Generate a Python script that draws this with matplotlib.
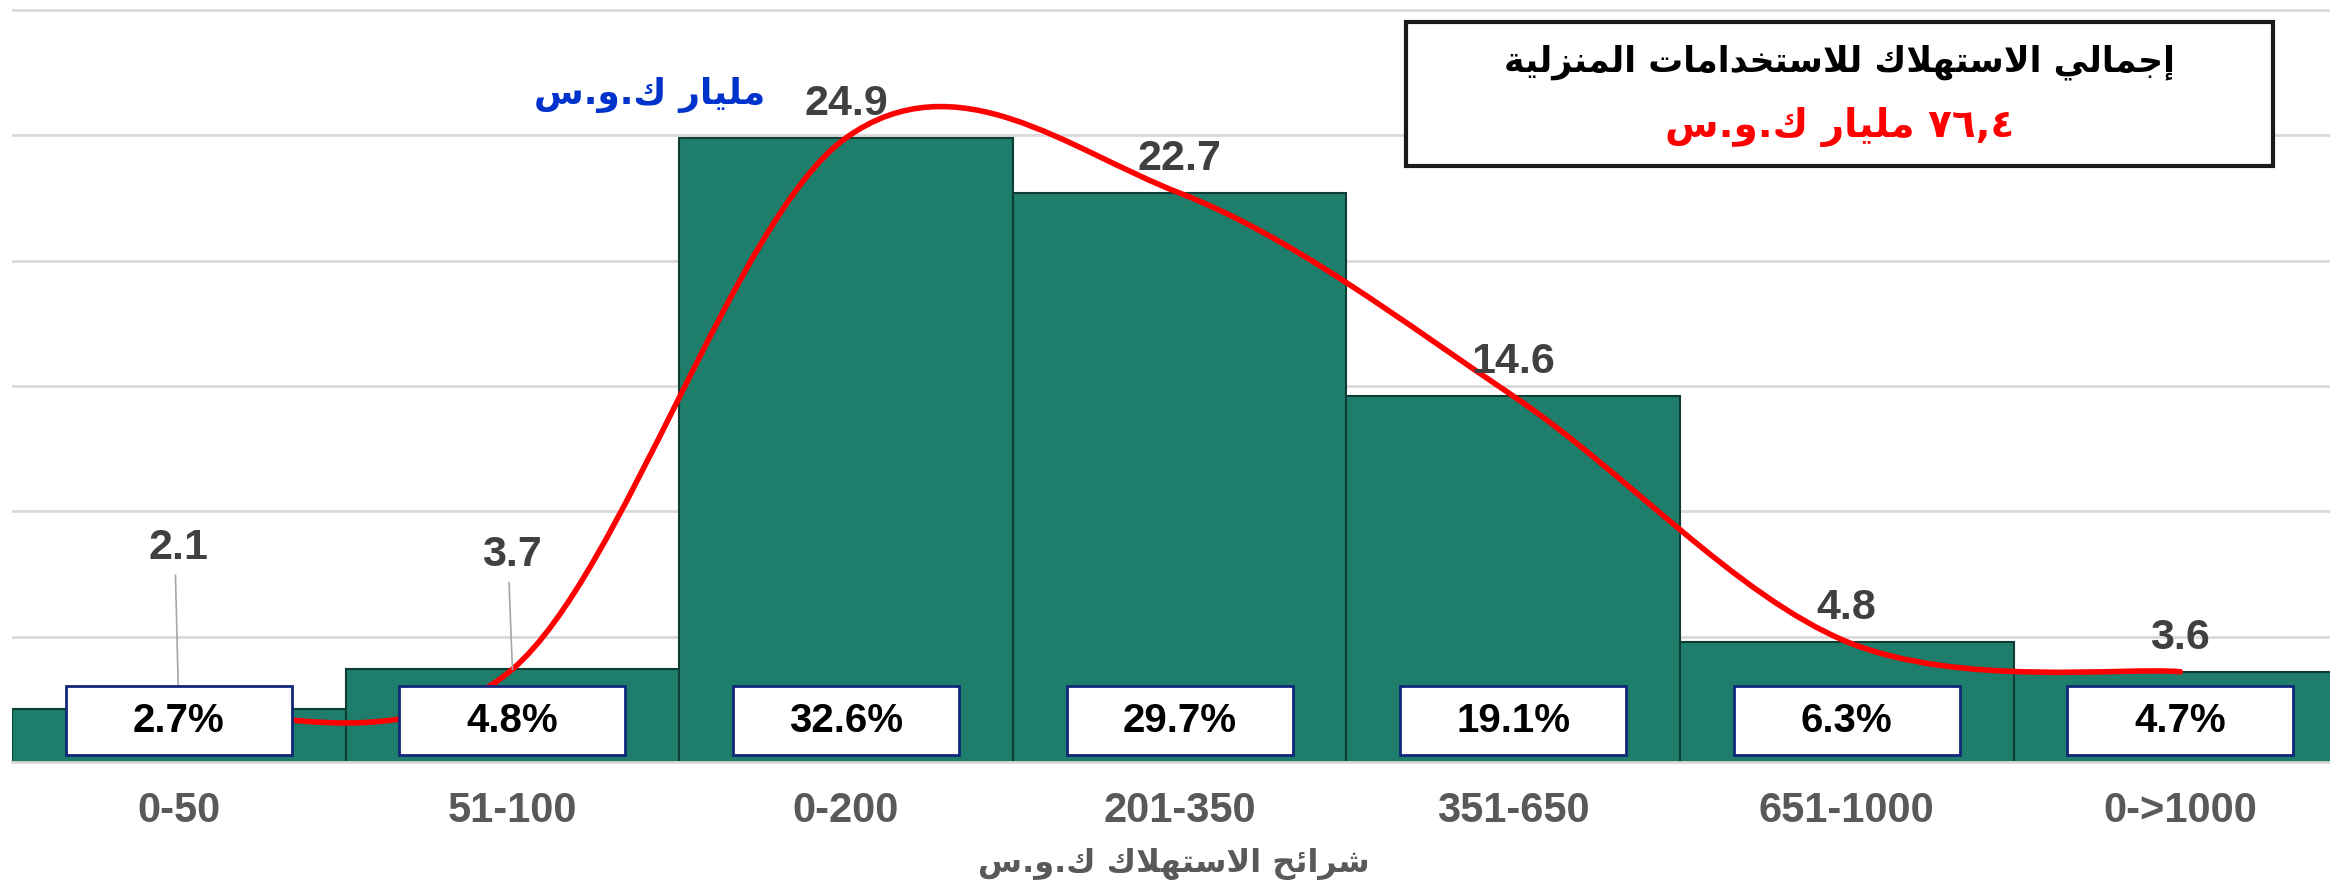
import re
import matplotlib
matplotlib.use("Agg")
import matplotlib.pyplot as plt
from matplotlib.path import Path
from matplotlib.patches import PathPatch, Rectangle

# Datos del gráfico
categories = ["0-50", "51-100", "0-200", "201-350", "351-650", "651-1000", "0->1000"]
consumption = [2.1, 3.7, 24.9, 22.7, 14.6, 4.8, 3.6]      # مليار ك.و.س
shares = [2.7, 4.8, 32.6, 29.7, 19.1, 6.3, 4.7]           # %

title_line1 = "إجمالي الاستهلاك للاستخدامات المنزلية"
title_line2 = "٧٦,٤ مليار ك.و.س"
unit_label = "مليار ك.و.س"
x_title = "شرائح الاستهلاك ك.و.س"

# Formas de presentación árabes (inicio del bloque, número de formas)
LETTERS = {'ء': (0xFE80, 1), 'آ': (0xFE81, 2), 'أ': (0xFE83, 2), 'ؤ': (0xFE85, 2),
           'إ': (0xFE87, 2), 'ئ': (0xFE89, 4), 'ا': (0xFE8D, 2), 'ب': (0xFE8F, 4),
           'ة': (0xFE93, 2), 'ت': (0xFE95, 4), 'ث': (0xFE99, 4), 'ج': (0xFE9D, 4),
           'ح': (0xFEA1, 4), 'خ': (0xFEA5, 4), 'د': (0xFEA9, 2), 'ذ': (0xFEAB, 2),
           'ر': (0xFEAD, 2), 'ز': (0xFEAF, 2), 'س': (0xFEB1, 4), 'ش': (0xFEB5, 4),
           'ص': (0xFEB9, 4), 'ض': (0xFEBD, 4), 'ط': (0xFEC1, 4), 'ظ': (0xFEC5, 4),
           'ع': (0xFEC9, 4), 'غ': (0xFECD, 4), 'ف': (0xFED1, 4), 'ق': (0xFED5, 4),
           'ك': (0xFED9, 4), 'ل': (0xFEDD, 4), 'م': (0xFEE1, 4), 'ن': (0xFEE5, 4),
           'ه': (0xFEE9, 4), 'و': (0xFEED, 2), 'ى': (0xFEEF, 2), 'ي': (0xFEF1, 4)}
LAM_ALEF = {'آ': 0xFEF5, 'أ': 0xFEF7, 'إ': 0xFEF9, 'ا': 0xFEFB}


def arabic(s):
    """Da forma a las letras y las pone en orden visual (derecha a izquierda)."""
    out = []
    prev_joins = False
    i = 0
    while i < len(s):
        c = s[i]
        if c not in LETTERS:
            out.append(c)
            prev_joins = False
            i += 1
            continue
        if c == 'ل' and i + 1 < len(s) and s[i + 1] in LAM_ALEF:
            out.append(chr(LAM_ALEF[s[i + 1]] + (1 if prev_joins else 0)))
            prev_joins = False
            i += 2
            continue
        start, n = LETTERS[c]
        nxt = s[i + 1] if i + 1 < len(s) else ''
        left = n == 4 and nxt in LETTERS
        if n == 1:
            form = 0
        elif n == 2:
            form = 1 if prev_joins else 0
        else:
            form = 3 if (prev_joins and left) else 2 if left else 1 if prev_joins else 0
        out.append(chr(start + form))
        prev_joins = n == 4
        i += 1
    vis = ''.join(reversed(out))
    return re.sub(r'[0-9\u0660-\u0669][0-9\u0660-\u0669,.]*', lambda m: m.group(0)[::-1], vis)


AR_FONT = ['DejaVu Sans']
NUM_FONT = ['Liberation Sans', 'DejaVu Sans']
W, H = 2330, 892

fig = plt.figure(figsize=(W / 100, H / 100), dpi=100)
ax = fig.add_axes([12 / W, 130 / H, 7 * 333.6 / W, 762 / H])

x = list(range(len(categories)))
ax.bar(x, consumption, width=1.0, color='#1e7d6b', edgecolor='#0e3d35', linewidth=1.5, zorder=2)

ax.set_xlim(-0.5, 6.5)
ax.set_ylim(0, 30.4)
ax.set_yticks([5, 10, 15, 20, 25, 30])
ax.yaxis.grid(True, color='#d9d9d9', linewidth=2)
ax.set_axisbelow(True)
ax.tick_params(left=False, labelleft=False, length=0, pad=21)
ax.set_xticks(x)
ax.set_xticklabels(categories, fontsize=30, fontweight='bold', color='#595959', family=NUM_FONT)
for s in ['top', 'right', 'left']:
    ax.spines[s].set_visible(False)
ax.spines['bottom'].set_color('#d9d9d9')
ax.spines['bottom'].set_linewidth(2)

# Línea suavizada (Bézier tipo Catmull-Rom como en Excel)
pts = list(zip(x, consumption))
verts = [pts[0]]
codes = [Path.MOVETO]
for k in range(len(pts) - 1):
    p0 = pts[k - 1] if k > 0 else pts[k]
    p1, p2 = pts[k], pts[k + 1]
    p3 = pts[k + 2] if k + 2 < len(pts) else pts[k + 1]
    c1 = (p1[0] + (p2[0] - p0[0]) / 6, p1[1] + (p2[1] - p0[1]) / 6)
    c2 = (p2[0] - (p3[0] - p1[0]) / 6, p2[1] - (p3[1] - p1[1]) / 6)
    verts += [c1, c2, p2]
    codes += [Path.CURVE4] * 3
ax.add_patch(PathPatch(Path(verts, codes), facecolor='none', edgecolor='#ff0000',
                       linewidth=4, zorder=3, capstyle='round'))

# Cajas de porcentaje
for xi, sh in zip(x, shares):
    ax.add_patch(Rectangle((xi - 0.339, 0.28), 0.678, 2.75, facecolor='white',
                           edgecolor='#10287a', linewidth=2, zorder=5))
    ax.text(xi, 1.65, f"{sh}%", ha='center', va='center', fontsize=29,
            fontweight='bold', color='black', family=NUM_FONT, zorder=6)

# Etiquetas de valores
raised = {0: 8.55, 1: 8.25}
for xi, v in zip(x, consumption):
    if xi in raised:
        ax.plot([xi - 0.01, xi], [raised[xi] - 1.1, v], color='#a6a6a6', linewidth=1.2, zorder=4)
        ty = raised[xi]
    else:
        ty = v + 1.35
    ax.text(xi, ty, f"{v}", ha='center', va='center', fontsize=31,
            fontweight='bold', color='#404040', family=NUM_FONT, zorder=6)

# Recuadro del total
fig.patches.append(Rectangle((1406 / W, 1 - 166 / H), 867 / W, 144 / H, transform=fig.transFigure,
                             facecolor='white', edgecolor='#1a1a1a', linewidth=3, zorder=10))
fig.text(1840 / W, 1 - 62 / H, arabic(title_line1), ha='center', va='center', fontsize=25,
         fontweight='bold', color='black', family=AR_FONT, zorder=11)
fig.text(1840 / W, 1 - 127 / H, arabic(title_line2), ha='center', va='center', fontsize=28,
         fontweight='bold', color='#ff0000', family=AR_FONT, zorder=11)

fig.text(650 / W, 1 - 95 / H, arabic(unit_label), ha='center', va='center', fontsize=26,
         fontweight='bold', color='#0033cc', family=AR_FONT)
fig.text(1174 / W, 1 - 864 / H, arabic(x_title), ha='center', va='center', fontsize=23,
         fontweight='bold', color='#595959', family=AR_FONT)

fig.savefig("out.png", dpi=100)
